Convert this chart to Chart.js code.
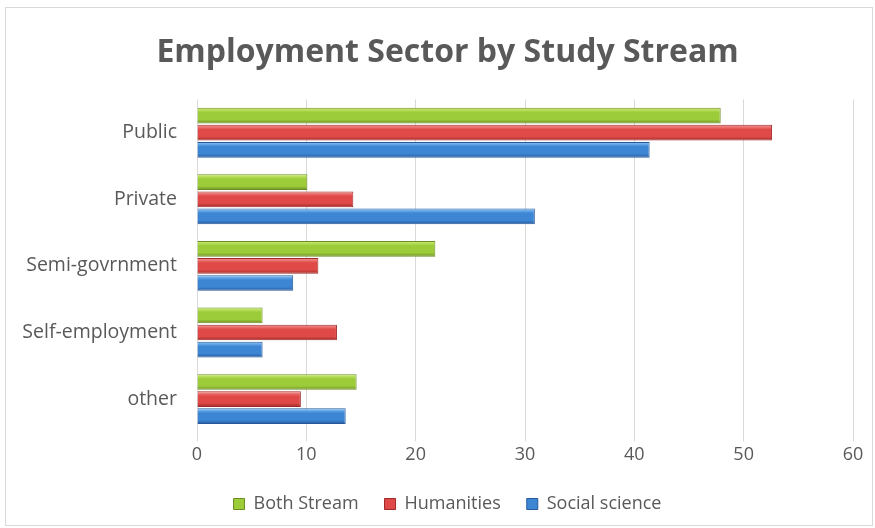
<!doctype html>
<html>
<head>
  <meta charset="utf-8">
  <title>Employment Sector by Study Stream</title>
  <script src="https://cdn.jsdelivr.net/npm/chart.js@4.4.1/dist/chart.umd.min.js"></script>
  <style>
    body { margin: 0; background: #fff; }
    #frame { position: absolute; left: 5px; top: 7px; width: 868px; height: 519px; border: 1px solid #d9d9d9; box-sizing: border-box; }
    #wrap { position: absolute; left: 0; top: 0; width: 875px; height: 528px; }
  </style>
</head>
<body>
  <div id="frame"></div>
  <div id="wrap"><canvas id="chart" width="875" height="528"></canvas></div>

  <script>
    var sectors = ["Public", "Private", "Semi-govrnment", "Self-employment", "other"];
    var bothStream = [47.9, 10.1, 21.8, 6.0, 14.6];
    var humanities = [52.6, 14.3, 11.1, 12.8, 9.5];
    var socialScience = [41.4, 30.9, 8.8, 6.0, 13.6];
    var xTicks = [0, 10, 20, 30, 40, 50, 60];

    // top / middle / bottom tones for the bevelled bars
    var tones = [
      ['#d2f07c', '#9ccc3a', '#6b8e23'],
      ['#f59a98', '#df4a48', '#9e2a28'],
      ['#8ec8fa', '#3c86d4', '#27599a']
    ];

    var bevel = {
      id: 'bevel',
      beforeDatasetsDraw: function (chart) {
        var c = chart.ctx;
        chart.data.datasets.forEach(function (ds, i) {
          var t = tones[i];
          chart.getDatasetMeta(i).data.forEach(function (el) {
            var h = el.height;
            var g = c.createLinearGradient(0, el.y - h / 2, 0, el.y + h / 2);
            g.addColorStop(0, t[0]);
            g.addColorStop(0.3, t[1]);
            g.addColorStop(0.75, t[1]);
            g.addColorStop(1, t[2]);
            // own options copy per bar so gradients don't overwrite each other
            el.options = Object.assign({}, el.options, { backgroundColor: g });
          });
        });
      }
    };

    new Chart(document.getElementById("chart"), {
      type: 'bar',
      data: {
        labels: sectors,
        datasets: [{
          label: "Both Stream",
          data: bothStream,
          backgroundColor: tones[0][1],
          borderColor: tones[0][2],
          borderWidth: 1
        }, {
          label: "Humanities",
          data: humanities,
          backgroundColor: tones[1][1],
          borderColor: tones[1][2],
          borderWidth: 1
        }, {
          label: "Social science",
          data: socialScience,
          backgroundColor: tones[2][1],
          borderColor: tones[2][2],
          borderWidth: 1
        }]
      },
      plugins: [bevel],
      options: {
        indexAxis: 'y',
        responsive: false,
        animation: false,
        devicePixelRatio: 1,
        categoryPercentage: 0.77,
        barPercentage: 0.92,
        layout: { padding: { left: 20, right: 0, top: 24, bottom: 5 } },
        plugins: {
          title: {
            display: true,
            text: 'Employment Sector by Study Stream',
            color: '#595959',
            font: { family: 'Open Sans', size: 32, weight: 'bold' },
            padding: { top: 10, bottom: 27 }
          },
          legend: {
            position: 'bottom',
            labels: {
              color: '#595959',
              font: { family: 'Open Sans', size: 18 },
              boxWidth: 11,
              boxHeight: 11,
              padding: 26
            }
          },
          tooltip: { enabled: false }
        },
        scales: {
          x: {
            min: 0,
            max: 60,
            afterBuildTicks: function (axis) {
              axis.ticks = xTicks.map(function (v) { return { value: v }; });
            },
            afterFit: function (axis) { axis.paddingRight = 22; },
            grid: { color: '#d9d9d9', drawTicks: true, tickLength: 9 },
            border: { display: false },
            ticks: {
              color: '#595959',
              font: { family: 'Open Sans', size: 18 },
              padding: 3
            }
          },
          y: {
            afterFit: function (axis) { axis.width = 177; },
            grid: { display: false },
            border: { display: false },
            ticks: {
              color: '#595959',
              font: { family: 'Open Sans', size: 19.5 },
              padding: 12
            }
          }
        }
      }
    });
  </script>
</body>
</html>
